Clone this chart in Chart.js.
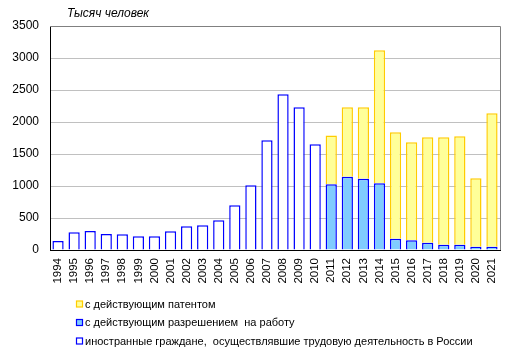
<!DOCTYPE html>
<html><head><meta charset="utf-8">
<script src="https://cdn.jsdelivr.net/npm/chart.js@4"></script>
<style>html,body{margin:0;padding:0;background:#fff}#w{width:515px;height:356px;position:relative}</style>
</head><body><div id="w"><canvas id="c" width="515" height="356"></canvas></div>
<script>
const years = ['1994','1995','1996','1997','1998','1999','2000','2001','2002','2003','2004','2005','2006','2007','2008','2009','2010','2011','2012','2013','2014','2015','2016','2017','2018','2019','2020','2021'];
const foreignWorkers = [140,276,297,250,245,214,214,292,370,386,464,698,1010,1714,2432,2229,1651,null,null,null,null,null,null,null,null,null,null,null];
const workPermits = [null,null,null,null,null,null,null,null,null,null,null,null,null,null,null,null,null,1026,1146,1115,1042,177,151,115,83,83,52,52];
const patents = [null,null,null,null,null,null,null,null,null,null,null,null,null,null,null,null,null,765,1083,1114,2078,1662,1531,1645,1677,1693,1068,2083];
const labelPatents = 'с действующим патентом';
const labelPermits = 'с действующим разрешением  на работу';
const labelForeign = 'иностранные граждане,  осуществлявшие трудовую деятельность в России';
const unitTitle = 'Тысяч человек';
const yTicks = [0,500,1000,1500,2000,2500,3000,3500];

const FONT = 'Arial, "Liberation Sans", sans-serif';
const extras = {
  id:'extras',
  afterDraw(chart){
    const ctx = chart.ctx, a = chart.chartArea;
    ctx.save();
    ctx.strokeStyle = '#808080'; ctx.lineWidth = 1;
    ctx.beginPath();
    ctx.moveTo(a.left, a.top + 0.5); ctx.lineTo(a.right + 0.5, a.top + 0.5); ctx.lineTo(a.right + 0.5, a.bottom);
    ctx.stroke();
    ctx.fillStyle = '#000';
    ctx.font = 'italic 12px ' + FONT;
    ctx.textBaseline = 'middle';
    ctx.fillText(unitTitle, a.left + 17, 14);
    // legend
    const ds = chart.data.datasets.slice().reverse();
    const ys = [304.5, 323, 341.5];
    ctx.font = '11px ' + FONT;
    ds.forEach((d, i) => {
      const y = ys[i];
      ctx.fillStyle = d.backgroundColor;
      ctx.fillRect(76.5, y - 3.5, 6, 6);
      ctx.strokeStyle = d.borderColor; ctx.lineWidth = 1.2;
      ctx.strokeRect(76.5, y - 3.5, 6, 6);
      ctx.fillStyle = '#000';
      ctx.fillText(d.label, 85, y);
    });
    ctx.restore();
  }
};

new Chart(document.getElementById('c'), {
  type: 'bar',
  data: {
    labels: years,
    datasets: [
      {label: labelForeign, data: foreignWorkers, backgroundColor: '#ffffff', borderColor: '#0000ff', borderWidth: 1.5},
      {label: labelPermits, data: workPermits, backgroundColor: '#80ccff', borderColor: '#0000ff', borderWidth: 1.5},
      {label: labelPatents, data: patents, backgroundColor: '#ffff99', borderColor: '#ffcc00', borderWidth: 1.5}
    ]
  },
  options: {
    responsive: false, animation: false,
    layout: {padding: {left: 0, right: 15, top: 26, bottom: 0}},
    datasets: {bar: {barPercentage: 0.7, categoryPercentage: 1}},
    plugins: {legend: {display: false}, title: {display: false}, tooltip: {enabled: false}},
    scales: {
      x: {
        stacked: true,
        grid: {display: false, drawTicks: false},
        border: {color: '#000', width: 1},
        ticks: {autoSkip: false, minRotation: 90, maxRotation: 90, color: '#000', font: {family: FONT, size: 11.5}, padding: 8},
        afterFit(s){ s.height = 106; }
      },
      y: {
        stacked: true, min: 0, max: 3500,
        afterBuildTicks(s){ s.ticks = yTicks.map(v => ({value: v})); },
        grid: {color: ctx => ctx.tick && ctx.tick.value === 0 ? 'rgba(0,0,0,0)' : '#c0c0c0', drawTicks: false},
        border: {color: '#000', width: 1},
        ticks: {color: '#000', font: {family: FONT, size: 12}, padding: 11, callback: v => String(v)},
        afterFit(s){ s.width = 50; }
      }
    }
  },
  plugins: [extras]
});
</script></body></html>
